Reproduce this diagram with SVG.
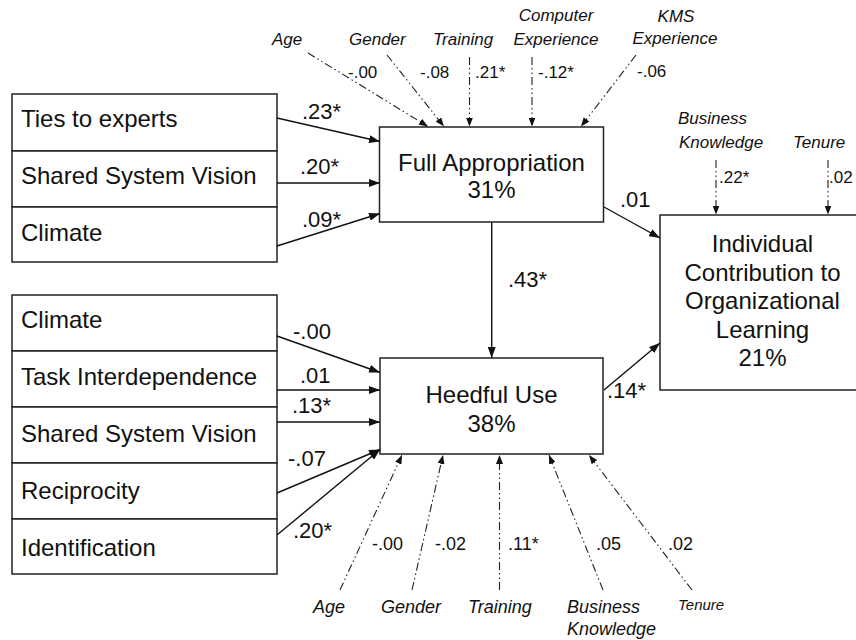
<svg xmlns="http://www.w3.org/2000/svg" width="856" height="640" viewBox="0 0 856 640">
<style>
.bg{fill:#fff}
.box{fill:#fff;stroke:#222;stroke-width:1.5}
.lbl{font-family:"Liberation Sans",Arial,sans-serif;font-size:24px;fill:#111}
.mid{text-anchor:middle}
.coef{font-family:"Liberation Sans",Arial,sans-serif;font-size:22px;fill:#111}
.sc{font-family:"Liberation Sans",Arial,sans-serif;font-size:17px;fill:#111}
.scb{font-family:"Liberation Sans",Arial,sans-serif;font-size:18px;fill:#111}
.ctl{font-family:"Liberation Sans",Arial,sans-serif;font-size:17px;font-style:italic;fill:#111}
.ctlb{font-family:"Liberation Sans",Arial,sans-serif;font-size:18px;font-style:italic;fill:#111}
.main{stroke:#111;stroke-width:1.4;fill:none;marker-end:url(#ah)}
.cp{stroke:#222;stroke-width:1.1;fill:none;stroke-dasharray:8 3 1.5 3 1.5 3;marker-end:url(#ah2)}
</style>
<defs>
<marker id="ah" markerUnits="userSpaceOnUse" markerWidth="11" markerHeight="8" refX="11" refY="4" orient="auto"><path d="M0,0 L11,4 L0,8 z" fill="#111"/></marker>
<marker id="ah2" markerUnits="userSpaceOnUse" markerWidth="9" markerHeight="7" refX="9" refY="3.5" orient="auto"><path d="M0,0 L9,3.5 L0,7 z" fill="#111"/></marker>
</defs>
<rect class="bg" x="0" y="0" width="856" height="640"/>

<g id="fa-ties"><rect class="box" x="12" y="94" width="265" height="57"/><text class="lbl" x="21" y="127">Ties to experts</text></g>
<g id="fa-ssv"><rect class="box" x="12" y="151" width="265" height="56"/><text class="lbl" x="21" y="184">Shared System Vision</text></g>
<g id="fa-climate"><rect class="box" x="12" y="207" width="265" height="55"/><text class="lbl" x="21" y="241">Climate</text></g>

<g id="hu-climate"><rect class="box" x="12" y="295" width="265" height="56"/><text class="lbl" x="21" y="328">Climate</text></g>
<g id="hu-task"><rect class="box" x="12" y="351" width="265" height="56"/><text class="lbl" x="21" y="385">Task Interdependence</text></g>
<g id="hu-ssv"><rect class="box" x="12" y="407" width="265" height="56"/><text class="lbl" x="21" y="442">Shared System Vision</text></g>
<g id="hu-recip"><rect class="box" x="12" y="463" width="265" height="56"/><text class="lbl" x="21" y="499">Reciprocity</text></g>
<g id="hu-ident"><rect class="box" x="12" y="519" width="265" height="55"/><text class="lbl" x="21" y="556">Identification</text></g>

<g id="full-appropriation"><rect class="box" x="379.5" y="127" width="224" height="95"/><text class="lbl mid" x="491.5" y="171">Full Appropriation</text><text class="lbl mid" x="491.5" y="198">31%</text></g>
<g id="heedful-use"><rect class="box" x="380" y="358" width="223" height="96"/><text class="lbl mid" x="491.5" y="403">Heedful Use</text><text class="lbl mid" x="491.5" y="432">38%</text></g>
<g id="icol"><rect class="box" x="660" y="215" width="205" height="175"/>
<text class="lbl mid" x="762.5" y="252">Individual</text>
<text class="lbl mid" x="762.5" y="281">Contribution to</text>
<text class="lbl mid" x="762.5" y="309">Organizational</text>
<text class="lbl mid" x="762.5" y="338">Learning</text>
<text class="lbl mid" x="762.5" y="366">21%</text></g>

<g id="ctl-top-age"><text class="ctl" x="272" y="45">Age</text></g>
<g id="ctl-top-gender"><text class="ctl" x="349" y="45">Gender</text></g>
<g id="ctl-top-training"><text class="ctl" x="433" y="45">Training</text></g>
<g id="ctl-top-computer"><text class="ctl mid" x="556" y="21">Computer</text><text class="ctl mid" x="556" y="45">Experience</text></g>
<g id="ctl-top-kms"><text class="ctl mid" x="676" y="22">KMS</text><text class="ctl mid" x="675" y="44">Experience</text></g>
<g id="ctl-icol-business"><text class="ctl" x="678" y="124">Business</text><text class="ctl" x="679" y="148">Knowledge</text></g>
<g id="ctl-icol-tenure"><text class="ctl" x="793" y="148">Tenure</text></g>

<g id="ctl-bot-age"><text class="ctlb" x="313" y="613">Age</text></g>
<g id="ctl-bot-gender"><text class="ctlb" x="381" y="613">Gender</text></g>
<g id="ctl-bot-training"><text class="ctlb" x="468" y="613">Training</text></g>
<g id="ctl-bot-business"><text class="ctlb" x="567" y="613">Business</text><text class="ctlb" x="567" y="635">Knowledge</text></g>
<g id="ctl-bot-tenure"><text class="ctl" x="678" y="610" style="font-size:15px">Tenure</text></g>

<g id="connectors">
<line class="main" x1="277" y1="118" x2="380" y2="141.5"/>
<line class="main" x1="277" y1="183" x2="380" y2="183"/>
<line class="main" x1="277" y1="246" x2="380" y2="213.5"/>
<line class="main" x1="277" y1="336" x2="380" y2="372.5"/>
<line class="main" x1="277" y1="390" x2="380" y2="390"/>
<line class="main" x1="277" y1="422" x2="380" y2="422"/>
<line class="main" x1="277" y1="493" x2="380" y2="449.5"/>
<line class="main" x1="277" y1="535" x2="380" y2="449.5"/>
<line class="main" x1="491.7" y1="222" x2="491.7" y2="358"/>
<line class="main" x1="604" y1="207" x2="660" y2="238"/>
<line class="main" x1="604" y1="390" x2="660" y2="343"/>

<line class="cp" x1="308" y1="53" x2="428" y2="126.5"/>
<line class="cp" x1="387" y1="55" x2="444" y2="126.5"/>
<line class="cp" x1="469.5" y1="57" x2="469.5" y2="126.5"/>
<line class="cp" x1="532" y1="57" x2="532" y2="126.5"/>
<line class="cp" x1="636" y1="55" x2="581" y2="126.5"/>
<line class="cp" x1="716" y1="160" x2="716" y2="214.5"/>
<line class="cp" x1="828" y1="160" x2="828" y2="214.5"/>
<line class="cp" x1="340" y1="590" x2="402" y2="455"/>
<line class="cp" x1="412" y1="590" x2="443" y2="455"/>
<line class="cp" x1="499.5" y1="590" x2="499.5" y2="455"/>
<line class="cp" x1="603" y1="590" x2="549" y2="455"/>
<line class="cp" x1="692" y1="590" x2="589" y2="455"/>
</g>

<g id="edge-labels">
<text class="coef" x="302" y="119">.23*</text>
<text class="coef" x="300" y="174">.20*</text>
<text class="coef" x="302" y="227">.09*</text>
<text class="coef" x="293" y="339">-.00</text>
<text class="coef" x="300" y="383">.01</text>
<text class="coef" x="292" y="413">.13*</text>
<text class="coef" x="288" y="466">-.07</text>
<text class="coef" x="293" y="538">.20*</text>
<text class="coef" x="508" y="287">.43*</text>
<text class="coef" x="620" y="207">.01</text>
<text class="coef" x="607" y="398">.14*</text>

<text class="sc" x="348" y="78">-.00</text>
<text class="sc" x="420" y="78">-.08</text>
<text class="sc" x="475" y="78">.21*</text>
<text class="sc" x="538" y="78">-.12*</text>
<text class="sc" x="637" y="77">-.06</text>
<text class="sc" x="719" y="183">.22*</text>
<text class="sc" x="829" y="183">.02</text>

<text class="scb" x="372" y="550">-.00</text>
<text class="scb" x="435" y="550">-.02</text>
<text class="scb" x="508" y="550">.11*</text>
<text class="scb" x="596" y="550">.05</text>
<text class="scb" x="668" y="550">.02</text>
</g>
</svg>
